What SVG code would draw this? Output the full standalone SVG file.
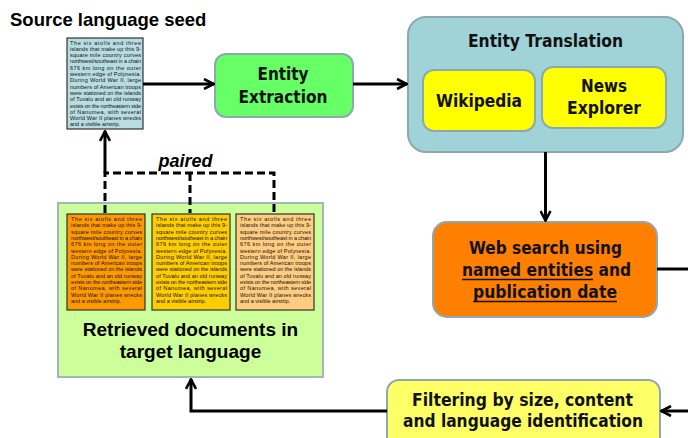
<svg xmlns="http://www.w3.org/2000/svg" xmlns:xlink="http://www.w3.org/1999/xlink" width="688" height="438" viewBox="0 0 688 438">
<style>
.box{stroke:#8fa8b0;stroke-width:2}
.t{font-family:"DejaVu Sans",Verdana,sans-serif;font-weight:bold;font-size:18px;fill:#111;text-anchor:middle}
.a{font-family:"Liberation Sans",Arial,sans-serif;font-weight:bold;fill:#000}
.doc{stroke:#333;stroke-width:1.2}
.dt{font-family:"Liberation Sans",Arial,sans-serif;font-size:5.5px;fill:#111}
.ln{fill:none;stroke:#000;stroke-width:3}
.ul{stroke:#111;stroke-width:1.6}
.dash{fill:none;stroke:#000;stroke-width:3;stroke-dasharray:8 4}
</style>
<defs>
<marker id="arr" viewBox="0 0 12 12" refX="11" refY="6" markerWidth="12" markerHeight="12" orient="auto" markerUnits="userSpaceOnUse">
<path d="M1,1 L10.5,6 L1,11" fill="none" stroke="#000" stroke-width="2.6"/>
</marker>
<g id="doctext" class="dt">
<text x="0" y="0" textLength="71" lengthAdjust="spacing">The six atolls and three</text>
<text x="0" y="6.3" textLength="71" lengthAdjust="spacing">islands that make up this 9-</text>
<text x="0" y="12.6" textLength="71" lengthAdjust="spacing">square mile country curves</text>
<text x="0" y="18.9" textLength="71" lengthAdjust="spacing">northwest/southeast in a chain</text>
<text x="0" y="25.2" textLength="71" lengthAdjust="spacing">676 km long on the outer</text>
<text x="0" y="31.5" textLength="71" lengthAdjust="spacing">western edge of Polynesia.</text>
<text x="0" y="37.8" textLength="71" lengthAdjust="spacing">During World War II, large</text>
<text x="0" y="44.1" textLength="71" lengthAdjust="spacing">numbers of American troops</text>
<text x="0" y="50.4" textLength="71" lengthAdjust="spacing">were stationed on the islands</text>
<text x="0" y="56.7" textLength="71" lengthAdjust="spacing">of Tuvalu and an old runway</text>
<text x="0" y="63" textLength="71" lengthAdjust="spacing">exists on the northeastern side</text>
<text x="0" y="69.3" textLength="71" lengthAdjust="spacing">of Nanumea, with several</text>
<text x="0" y="75.6" textLength="71" lengthAdjust="spacing">World War II planes wrecks</text>
<text x="0" y="81.9">and a visible airstrip.</text>
</g>
</defs>
<rect width="688" height="438" fill="#fff"/>

<g id="seed">
<text class="a" x="10" y="26" font-size="18.5">Source language seed</text>
<rect class="doc" x="67" y="38" width="76" height="91" fill="#b7dde3"/>
<use xlink:href="#doctext" x="70" y="44.5"/>
</g>

<g id="extraction">
<rect class="box" x="215" y="54" width="138" height="63" rx="11" fill="#66ff66"/>
<text class="t" x="283" y="80" textLength="51" lengthAdjust="spacingAndGlyphs">Entity</text>
<text class="t" x="283" y="103" textLength="89" lengthAdjust="spacingAndGlyphs">Extraction</text>
</g>

<g id="translation">
<rect class="box" x="408" y="17" width="275" height="135" rx="18" fill="#9fd3d7"/>
<text class="t" x="545.5" y="47" textLength="155" lengthAdjust="spacingAndGlyphs">Entity Translation</text>
<g id="wikipedia">
<rect class="box" x="423" y="70" width="112" height="61" rx="11" fill="#ffff00"/>
<text class="t" x="479" y="107" textLength="86" lengthAdjust="spacingAndGlyphs">Wikipedia</text>
</g>
<g id="newsexplorer">
<rect class="box" x="542" y="67" width="124" height="61" rx="11" fill="#ffff00"/>
<text class="t" x="604" y="92" textLength="46" lengthAdjust="spacingAndGlyphs">News</text>
<text class="t" x="604" y="114" textLength="74" lengthAdjust="spacingAndGlyphs">Explorer</text>
</g>
</g>

<g id="websearch">
<rect class="box" x="433" y="222" width="224" height="95" rx="14" fill="#ff8000"/>
<text class="t" x="545.5" y="254" textLength="153" lengthAdjust="spacingAndGlyphs">Web search using</text>
<text class="t" x="546.5" y="276" textLength="169" lengthAdjust="spacingAndGlyphs">named entities and</text>
<line class="ul" x1="462" y1="279.5" x2="593" y2="279.5"/>
<text class="t" x="545" y="298" textLength="144" lengthAdjust="spacingAndGlyphs">publication date</text>
<line class="ul" x1="473" y1="301.5" x2="617" y2="301.5"/>
</g>

<g id="filtering">
<rect class="box" x="387" y="380" width="273" height="70" rx="12" fill="#ffff66"/>
<text class="t" x="522.5" y="406" textLength="221" lengthAdjust="spacingAndGlyphs">Filtering by size, content</text>
<text class="t" x="523" y="427" textLength="240" lengthAdjust="spacingAndGlyphs">and language identification</text>
</g>

<g id="retrieved">
<rect x="58" y="203" width="265" height="174" fill="#ccff99" stroke="#a3b6bd" stroke-width="2"/>
<rect class="doc" x="67" y="214" width="78" height="96" fill="#ff9900"/>
<use xlink:href="#doctext" x="71" y="221"/>
<rect class="doc" x="152" y="214" width="78" height="96" fill="#ffcc00"/>
<use xlink:href="#doctext" x="156" y="221"/>
<rect class="doc" x="236" y="214" width="78" height="96" fill="#ffcc80"/>
<use xlink:href="#doctext" x="240" y="221"/>
<text class="a" x="190.5" y="336" font-size="19" text-anchor="middle">Retrieved documents in</text>
<text class="a" x="190.5" y="358" font-size="19" text-anchor="middle">target language</text>
</g>

<g id="connectors">
<line class="ln" x1="143" y1="84" x2="214" y2="84" marker-end="url(#arr)"/>
<line class="ln" x1="353" y1="84" x2="407" y2="84" marker-end="url(#arr)"/>
<line class="ln" x1="545.5" y1="152" x2="545.5" y2="221" marker-end="url(#arr)"/>
<line class="ln" x1="657" y1="269" x2="688" y2="269"/>
<line class="ln" x1="688" y1="411" x2="661" y2="411" marker-end="url(#arr)"/>
<polyline class="ln" points="387,411 191,411 191,379" marker-end="url(#arr)"/>
<line class="ln" x1="105" y1="173" x2="105" y2="131" marker-end="url(#arr)"/>
<polyline class="dash" points="105,213 105,173 274,173 274,213"/>
<line class="dash" x1="190" y1="173" x2="190" y2="213"/>
<text class="a" x="185.5" y="167" font-size="18" font-style="italic" text-anchor="middle">paired</text>
</g>
</svg>
